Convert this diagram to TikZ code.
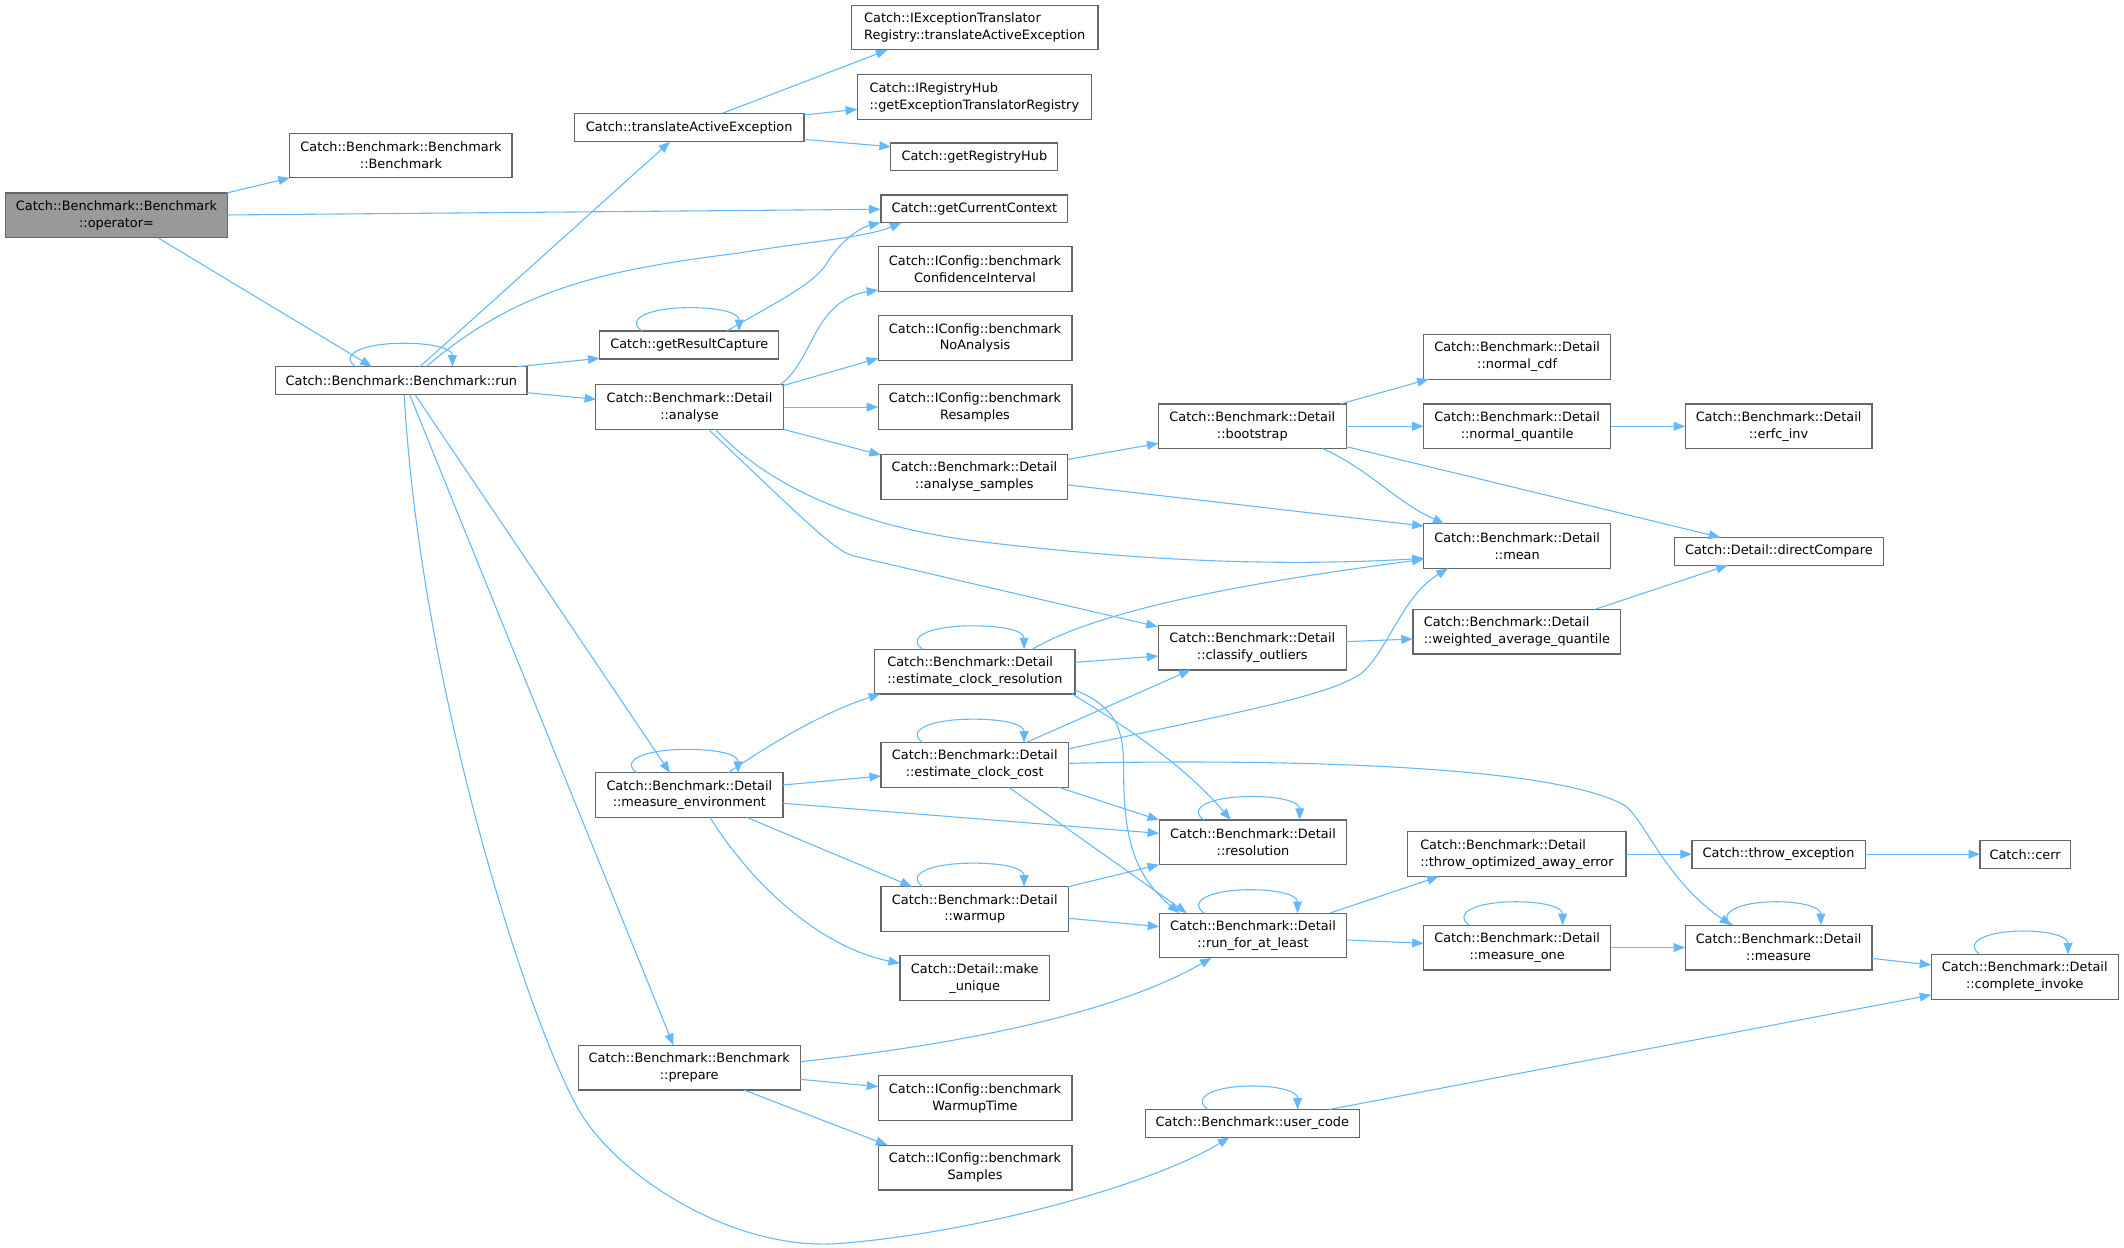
\documentclass[tikz,border=0pt]{standalone}
\usepackage{fontspec}
\setmainfont{DejaVu Sans}
\usetikzlibrary{arrows.meta,calc}
\definecolor{edgeblue}{RGB}{99,184,255}
\definecolor{bordergray}{RGB}{102,102,102}
\definecolor{rootgray}{RGB}{153,153,153}
\newcommand{\selfloop}[4]{%
 \draw[conn] ($(#1)+(#2,#4)$) .. controls ($(#1)+(#2-12,#4-8.3)$) and ($(#1)+(#2+3,#4-17.3)$) .. ($(#1)+({(#2+#3)/2},#4-17.3)$) .. controls ($(#1)+(#3-14,#4-17.3)$) and ($(#1)+(#3,#4-13.3)$) .. ($(#1)+(#3,#4)$);}
\begin{document}
\begin{tikzpicture}[x=1pt,y=-1pt,
 nbox/.style={draw=bordergray, line width=0.9pt, fill=white, align=center, inner sep=1pt, font=\fontsize{9.5}{12.5}\selectfont, minimum height=33pt},
 nbox1/.style={nbox, minimum height=20.6pt},
 conn/.style={draw=edgeblue, line width=0.8pt, -{Triangle[length=8.5pt,width=6.5pt]}}]
\useasboundingbox (0,0) rectangle (1568,921.3);
% nodes
\node[nbox, fill=rootgray, minimum width=163.7pt] (op) at (86,159) {Catch::Benchmark::Benchmark\\::operator=};
\node[nbox, minimum width=164pt] (bench) at (296,114.8) {Catch::Benchmark::Benchmark\\::Benchmark};
\node[nbox1, minimum width=169.5pt] (tae) at (508.8,94.1) {Catch::translateActiveException};
\node[nbox, align=left, minimum width=181.8pt] (ietr) at (719.6,20.3) {Catch::IExceptionTranslator\\Registry::translateActiveException};
\node[nbox, align=left, minimum width=173pt] (irh) at (719.3,71.6) {Catch::IRegistryHub\\::getExceptionTranslatorRegistry};
\node[nbox1, minimum width=123.3pt] (grh) at (719.3,115.8) {Catch::getRegistryHub};
\node[nbox1, minimum width=137.8pt] (gcc) at (719.3,154.2) {Catch::getCurrentContext};
\node[nbox1, minimum width=185.5pt] (run) at (296.3,281) {Catch::Benchmark::Benchmark::run};
\node[nbox1, minimum width=132pt] (grc) at (508.8,254.7) {Catch::getResultCapture};
\node[nbox, minimum width=143pt] (bci) at (719.8,198.5) {Catch::IConfig::benchmark\\ConfidenceInterval};
\node[nbox, minimum width=143pt] (bna) at (719.8,249.5) {Catch::IConfig::benchmark\\NoAnalysis};
\node[nbox, minimum width=143pt] (brs) at (719.8,300.5) {Catch::IConfig::benchmark\\Resamples};
\node[nbox, minimum width=138.7pt] (analyse) at (509,300.5) {Catch::Benchmark::Detail\\::analyse};
\node[nbox, minimum width=138pt] (asamp) at (719.3,352) {Catch::Benchmark::Detail\\::analyse\_samples};
\node[nbox, minimum width=138.6pt] (bootstrap) at (924.5,314.7) {Catch::Benchmark::Detail\\::bootstrap};
\node[nbox, minimum width=138pt] (ncdf) at (1120,263.4) {Catch::Benchmark::Detail\\::normal\_cdf};
\node[nbox, minimum width=138pt] (nq) at (1120,314.7) {Catch::Benchmark::Detail\\::normal\_quantile};
\node[nbox, minimum width=138pt] (erfc) at (1313,314.7) {Catch::Benchmark::Detail\\::erfc\_inv};
\node[nbox, minimum width=138pt] (mean) at (1120,403.2) {Catch::Benchmark::Detail\\::mean};
\node[nbox1, minimum width=154pt] (dc) at (1313.2,407) {Catch::Detail::directCompare};
\node[nbox, align=left, minimum width=153.5pt] (wq) at (1119.8,466.3) {Catch::Benchmark::Detail\\::weighted\_average\_quantile};
\node[nbox, minimum width=138.6pt] (co) at (924.5,478.1) {Catch::Benchmark::Detail\\::classify\_outliers};
\node[nbox, align=left, minimum width=147.7pt] (ecr) at (719.7,495.8) {Catch::Benchmark::Detail\\::estimate\_clock\_resolution};
\node[nbox, minimum width=138.4pt] (ecc) at (719.6,564.7) {Catch::Benchmark::Detail\\::estimate\_clock\_cost};
\node[nbox, minimum width=138.3pt] (menv) at (508.9,587) {Catch::Benchmark::Detail\\::measure\_environment};
\node[nbox, minimum width=138.6pt] (res) at (925,621.8) {Catch::Benchmark::Detail\\::resolution};
\node[nbox, align=left, minimum width=161pt] (toae) at (1119.8,630.6) {Catch::Benchmark::Detail\\::throw\_optimized\_away\_error};
\node[nbox1, minimum width=128pt] (te) at (1313,630.6) {Catch::throw\_exception};
\node[nbox1, minimum width=66.6pt] (cerr) at (1495,630.6) {Catch::cerr};
\node[nbox, minimum width=138.4pt] (warmup) at (719.6,671) {Catch::Benchmark::Detail\\::warmup};
\node[nbox, minimum width=138.6pt] (rfal) at (925,690.6) {Catch::Benchmark::Detail\\::run\_for\_at\_least};
\node[nbox, minimum width=138pt] (mone) at (1120,699.5) {Catch::Benchmark::Detail\\::measure\_one};
\node[nbox, minimum width=138pt] (measure) at (1313,699.5) {Catch::Benchmark::Detail\\::measure};
\node[nbox, minimum width=138pt] (ci) at (1494.7,721.1) {Catch::Benchmark::Detail\\::complete\_invoke};
\node[nbox, minimum width=110.3pt] (mu) at (719.6,722.1) {Catch::Detail::make\\\_unique};
\node[nbox, minimum width=164pt] (prep) at (508.8,788.1) {Catch::Benchmark::Benchmark\\::prepare};
\node[nbox, minimum width=143pt] (bwt) at (719.8,810.7) {Catch::IConfig::benchmark\\WarmupTime};
\node[nbox, minimum width=143pt] (bsm) at (719.8,861.9) {Catch::IConfig::benchmark\\Samples};
\node[nbox1, minimum width=157.7pt] (uc) at (924.5,829.3) {Catch::Benchmark::user\_code};
% edges from operator=
\draw[conn] ($(op)+(81.3,-16.5)$) -- ($(bench)+(-82,16.5)$);
\draw[conn] ($(op)+(81.8,-0.3)$) -- ($(gcc)+(-69.3,0.3)$);
\draw[conn] ($(op)+(30.5,16.5)$) -- ($(run)+(-21.8,-10.3)$);
% run
\selfloop{run}{-33.7}{37.7}{-10.3}
\draw[conn] ($(run)+(13.7,-10.3)$) -- ($(tae)+(-14.2,10.5)$);
\draw[conn] ($(run)+(18.3,-10.3)$) .. controls ($(run)+(83.7,-66)$) and ($(run)+(143.7,-81)$) .. ($(gcc)+(-175.4,32.8)$) .. controls ($(gcc)+(-119.3,23.8)$) and ($(gcc)+(-79.3,20.8)$) .. ($(gcc)+(-53.8,10.2)$);
\draw[conn] ($(run)+(85.7,-10.3)$) -- ($(grc)+(-66.2,9.8)$);
\draw[conn] ($(run)+(92.7,8.9)$) -- ($(analyse)+(-68.9,-5.7)$);
\draw[conn] ($(run)+(10.1,10.3)$) -- ($(menv)+(-14.3,-16.5)$);
\draw[conn] ($(run)+(6.1,10.3)$) -- ($(prep)+(-11.7,-16.5)$);
\draw[conn] ($(run)+(2.1,10.3)$) .. controls ($(run)+(13.7,219)$) and ($(run)+(88.7,459)$) .. ($(run)+(128.3,533.5)$) .. controls ($(uc)+(-474.5,35.7)$) and ($(uc)+(-384.5,95.7)$) .. ($(uc)+(-303.1,88.5)$) .. controls ($(uc)+(-204.5,80.7)$) and ($(uc)+(-74.5,45.7)$) .. ($(uc)+(-16.9,10.3)$);
% translateActiveException
\draw[conn] ($(tae)+(24.6,-10.5)$) -- ($(ietr)+(-64.5,16.6)$);
\draw[conn] ($(tae)+(84.7,-9.2)$) -- ($(irh)+(-86.5,9.1)$);
\draw[conn] ($(tae)+(84.7,8.8)$) -- ($(grh)+(-61.6,-7.5)$);
% getResultCapture
\selfloop{grc}{-34.8}{36.9}{-10.3}
\draw[conn] ($(grc)+(27.7,-10.3)$) .. controls ($(grc)+(66.2,-32.7)$) and ($(grc)+(91.2,-44.7)$) .. ($(gcc)+(-109.3,40.8)$) .. controls ($(gcc)+(-99.3,23.8)$) and ($(gcc)+(-84.3,13.8)$) .. ($(gcc)+(-69.3,10.2)$);
% analyse
\draw[conn] ($(analyse)+(66.7,-16.5)$) .. controls ($(analyse)+(91,-32.5)$) and ($(bci)+(-119.8,23.5)$) .. ($(bci)+(-71.5,15.5)$);
\draw[conn] ($(analyse)+(68,-15.5)$) -- ($(bna)+(-71.5,15)$);
\draw[conn] ($(analyse)+(69.4,0)$) -- ($(brs)+(-71.5,0)$);
\draw[conn] ($(analyse)+(69.5,16.5)$) -- ($(asamp)+(-69,-16.1)$);
\draw[conn] ($(analyse)+(19.2,16.5)$) .. controls ($(analyse)+(61,61.5)$) and ($(analyse)+(131,89.5)$) .. ($(mean)+(-395,-3.2)$) .. controls ($(mean)+(-270,11.8)$) and ($(mean)+(-170,14.8)$) .. ($(mean)+(-69,9)$);
\draw[conn] ($(analyse)+(14,16.5)$) .. controls ($(analyse)+(91,89.5)$) and ($(analyse)+(106,104.5)$) .. ($(analyse)+(120.2,109.7)$) -- ($(co)+(-69.9,-15.5)$);
% analyse_samples
\draw[conn] ($(asamp)+(69.2,-12.9)$) -- ($(bootstrap)+(-69.3,12.6)$);
\draw[conn] ($(asamp)+(69.2,6)$) -- ($(mean)+(-69,-14.9)$);
% bootstrap
\draw[conn] ($(bootstrap)+(65.1,-16.5)$) -- ($(ncdf)+(-65.3,16.5)$);
\draw[conn] ($(bootstrap)+(69.3,0)$) -- ($(nq)+(-69,0)$);
\draw[conn] ($(nq)+(69,0)$) -- ($(erfc)+(-69,0)$);
\draw[conn] ($(bootstrap)+(51.9,16.5)$) .. controls ($(bootstrap)+(85.5,31.3)$) and ($(mean)+(-90,-33.2)$) .. ($(mean)+(-53.7,-16.5)$);
\draw[conn] ($(bootstrap)+(69.3,15)$) -- ($(dc)+(-43.2,-10.3)$);
\draw[conn] ($(wq)+(57.7,-16.5)$) -- ($(dc)+(-37.8,10.3)$);
\draw[conn] ($(co)+(69.3,-4.4)$) -- ($(wq)+(-76.8,5.4)$);
% estimate_clock_resolution
\selfloop{ecr}{-38.5}{36.3}{-16.5}
\draw[conn] ($(ecr)+(42.3,-16.5)$) .. controls ($(ecr)+(100.3,-50.8)$) and ($(mean)+(-160,21.8)$) .. ($(mean)+(-69,9.7)$);
\draw[conn] ($(ecr)+(73.9,-6.8)$) -- ($(co)+(-69.5,6.2)$);
\draw[conn] ($(ecr)+(71.7,16.5)$) .. controls ($(ecr)+(100.3,34.2)$) and ($(res)+(-55,-61.8)$) .. ($(res)+(-16.4,-16.5)$);
\draw[conn] ($(ecr)+(73.9,13.6)$) .. controls ($(ecr)+(105.3,26.2)$) and ($(ecr)+(110.3,44.2)$) .. ($(ecr)+(109.8,74.2)$) .. controls ($(rfal)+(-95.5,-65.6)$) and ($(rfal)+(-85,-42.6)$) .. ($(rfal)+(-54.6,-16.5)$);
% estimate_clock_cost
\selfloop{ecc}{-38.4}{36.4}{-16.5}
\draw[conn] ($(ecc)+(37.8,-16.5)$) -- ($(co)+(-45.6,16.5)$);
\draw[conn] ($(ecc)+(69.2,-11.8)$) .. controls ($(ecc)+(180.4,-36.7)$) and ($(ecc)+(260.4,-49.7)$) .. ($(mean)+(-115,93.8)$) .. controls ($(mean)+(-95,76.8)$) and ($(mean)+(-85,36.8)$) .. ($(mean)+(-51.1,16.5)$);
\draw[conn] ($(ecc)+(69.2,-1.2)$) .. controls ($(ecc)+(230.4,-4.7)$) and ($(measure)+(-163,-134.5)$) .. ($(measure)+(-113,-104.5)$) .. controls ($(measure)+(-98,-92.5)$) and ($(measure)+(-83,-49.5)$) .. ($(measure)+(-35,-16.5)$);
\draw[conn] ($(ecc)+(61.9,16.5)$) -- ($(res)+(-69.3,-16.4)$);
\draw[conn] ($(ecc)+(25.1,16.5)$) -- ($(rfal)+(-48.9,-16.5)$);
% measure_environment
\selfloop{menv}{-38.7}{35.9}{-16.5}
\draw[conn] ($(menv)+(28.7,-16.5)$) .. controls ($(menv)+(61.1,-39)$) and ($(ecr)+(-109.7,29.2)$) .. ($(ecr)+(-69.8,16.5)$);
\draw[conn] ($(menv)+(69.2,-7.5)$) -- ($(ecc)+(-69.2,8.2)$);
\draw[conn] ($(menv)+(69.2,6)$) -- ($(res)+(-69.3,-6.6)$);
\draw[conn] ($(menv)+(42.6,16.5)$) -- ($(warmup)+(-46.4,-16.5)$);
\draw[conn] ($(menv)+(15.2,16.5)$) .. controls ($(menv)+(51.1,73)$) and ($(mu)+(-109.6,-22.1)$) .. ($(mu)+(-55.2,-10.9)$);
% warmup
\selfloop{warmup}{-38.4}{36.4}{-16.5}
\draw[conn] ($(warmup)+(68.9,-16.4)$) -- ($(res)+(-69.3,16.5)$);
\draw[conn] ($(warmup)+(69.2,6.9)$) -- ($(rfal)+(-69.3,-6.5)$);
% resolution, run_for_at_least and onwards
\selfloop{res}{-36.2}{34.5}{-16.5}
\selfloop{rfal}{-36}{32.9}{-16.5}
\draw[conn] ($(rfal)+(56.6,-16.5)$) -- ($(toae)+(-57.7,16.5)$);
\draw[conn] ($(rfal)+(69.3,3.3)$) -- ($(mone)+(-69,-3.1)$);
\draw[conn] ($(toae)+(80.5,0)$) -- ($(te)+(-64,0)$);
\draw[conn] ($(te)+(64,0)$) -- ($(cerr)+(-33.3,0)$);
\selfloop{mone}{-35.2}{33.6}{-16.5}
\draw[conn] ($(mone)+(69,0)$) -- ($(measure)+(-69,0)$);
\selfloop{measure}{-34}{31.2}{-16.5}
\draw[conn] ($(measure)+(69,8)$) -- ($(ci)+(-69,-8.7)$);
\selfloop{ci}{-33.1}{32}{-16.5}
% prepare
\draw[conn] ($(prep)+(82,-4.3)$) .. controls ($(prep)+(191.2,-16.1)$) and ($(rfal)+(-105,59.4)$) .. ($(rfal)+(-30.6,16.5)$);
\draw[conn] ($(prep)+(82,8.7)$) -- ($(bwt)+(-71.5,-8.5)$);
\draw[conn] ($(prep)+(40.2,16.5)$) -- ($(bsm)+(-64.7,-16.5)$);
% user_code
\selfloop{uc}{-32.8}{33.4}{-10.3}
\draw[conn] ($(uc)+(57.1,-10.3)$) -- ($(ci)+(-69,13.4)$);
\end{tikzpicture}
\end{document}
